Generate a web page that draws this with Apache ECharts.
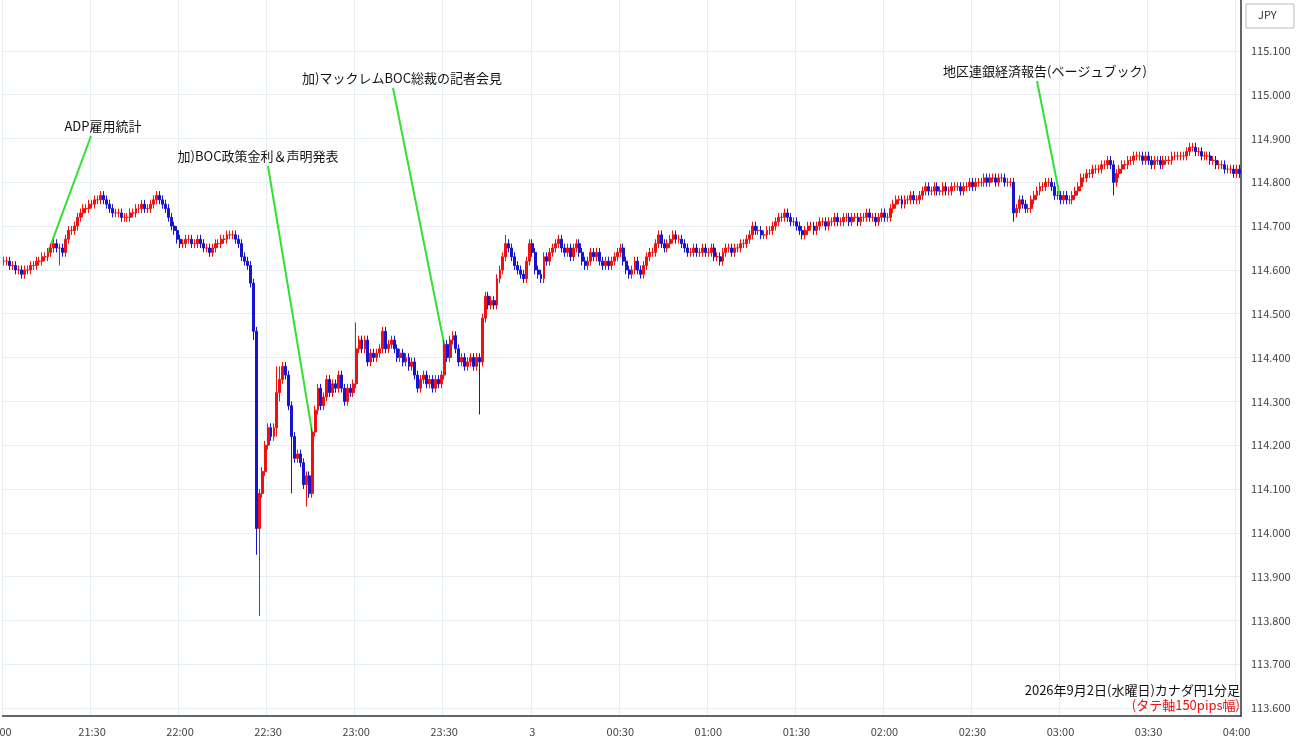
<!DOCTYPE html>
<html>
<head>
<meta charset="utf-8">
<script src="https://cdn.jsdelivr.net/npm/echarts@6/dist/echarts.min.js"></script>
<style>html,body{margin:0;padding:0;background:#fff}#chart{width:1300px;height:745px}</style>
</head>
<body>
<div id="chart"></div>
<script>
// closes in pips above 114.000, one per minute from 21:00
var closePips = [
 62,62,61,61,60,60,59,60,60,61,61,62,62,63,63,64,65,66,65,65,64,67,69,69,70,72,73,74,74,75,
 75,76,76,77,76,75,74,73,73,73,72,72,72,73,73,74,74,75,74,74,75,76,77,76,75,74,72,70,69,67,
 66,66,67,67,66,66,67,66,65,65,64,65,66,66,67,67,68,68,68,67,66,63,62,61,57,46,1,9,14,20,
 24,22,24,32,35,38,36,29,22,17,18,16,11,13,9,23,28,33,29,31,35,32,34,33,36,33,30,33,32,34,
 42,44,42,44,39,41,40,41,42,46,42,43,44,42,40,41,39,40,38,39,36,33,35,36,34,35,33,35,34,36,
 43,40,44,45,42,39,40,38,39,40,38,40,39,49,54,52,53,52,58,60,63,66,65,63,61,60,59,58,62,66,
 64,60,59,58,63,62,64,65,66,67,65,64,65,63,65,66,64,62,61,62,64,63,64,62,61,62,61,62,63,64,
 65,62,60,59,60,62,60,59,61,63,64,64,66,68,66,65,66,67,68,67,67,66,65,64,64,65,64,64,65,64,
 64,65,63,63,62,64,65,65,64,65,65,66,66,67,68,70,69,69,68,68,69,69,70,71,72,72,73,72,71,71,
 70,69,68,69,70,70,69,70,71,71,70,71,71,72,71,71,72,72,71,72,72,71,72,72,73,72,72,71,72,73,
 72,72,74,75,76,76,75,76,76,77,76,76,77,78,79,78,78,79,78,78,79,78,78,79,79,79,78,79,79,80,
 79,80,80,80,81,80,81,81,80,81,81,80,80,80,73,74,76,75,74,74,76,77,78,79,79,80,80,79,77,77,
 76,77,76,76,77,78,79,81,81,82,82,83,83,83,84,84,85,84,80,82,83,84,84,85,85,86,86,86,85,86,
 85,84,85,85,84,85,85,85,86,86,86,86,86,87,88,88,87,87,86,86,86,85,85,84,84,84,83,83,83,82,
 83,82
];
var firstOpenPips = 62;
// notable wicks: minute index -> [high, low] in pips
var wickPips = {
 19: [66, 61], 84: [62, 56], 85: [58, 44], 86: [47, -5], 87: [10, -19], 93: [38, 22], 94: [38, 30],
 98: [30, 9], 103: [14, 6], 105: [24, 8], 120: [48, 33], 129: [47, 41], 162: [41, 27],
 171: [68, 62], 344: [81, 71], 378: [85, 77], 404: [89, 86]
};
var tickLabels = ['21:00','21:30','22:00','22:30','23:00','23:30','3','00:30','01:00','01:30','02:00','02:30','03:00','03:30','04:00'];
var yTicks = [113.6,113.7,113.8,113.9,114.0,114.1,114.2,114.3,114.4,114.5,114.6,114.7,114.8,114.9,115.0,115.1];
var events = [
  {text: 'ADP雇用統計', minute: 15, x: 103, y: 120, lx: 91},
  {text: '加)BOC政策金利＆声明発表', minute: 105, x: 258, y: 150, lx: 268},
  {text: '加)マックレムBOC総裁の記者会見', minute: 150, x: 402, y: 72, lx: 393},
  {text: '地区連銀経済報告(ベージュブック)', minute: 360, x: 1045, y: 65, lx: 1037}
];

function p(v) { return +(114 + v / 100).toFixed(3); }

var cats = [], candles = [];
for (var i = 0; i < closePips.length; i++) {
  var m = 21 * 60 + i, hh = Math.floor(m / 60) % 24, mm = m % 60;
  var lab = (hh < 10 ? '0' : '') + hh + ':' + (mm < 10 ? '0' : '') + mm;
  if (lab === '00:00') lab = '3';
  cats.push(lab);
  var o = i === 0 ? firstOpenPips : closePips[i - 1], c = closePips[i];
  var hi = Math.max(o, c) + 1, lo = Math.min(o, c) - 1;
  if (wickPips[i]) { hi = wickPips[i][0]; lo = wickPips[i][1]; }
  candles.push([p(o), p(c), p(lo), p(hi)]);
}

var chart = echarts.init(document.getElementById('chart'));
var font = '"Noto Sans CJK JP", "Noto Sans", sans-serif';

chart.setOption({
  animation: false,
  textStyle: {fontFamily: font},
  grid: {left: 2.5, right: 59, top: 0, bottom: 29, containLabel: false, outerBoundsMode: 'none'},
  xAxis: {
    type: 'category', data: cats, boundaryGap: true,
    axisLine: {lineStyle: {color: '#333', width: 1.5}},
    axisTick: {show: false},
    axisLabel: {
      color: '#444', fontSize: 11, margin: 10, showMinLabel: true, hideOverlap: false,
      interval: function (idx, v) { return tickLabels.indexOf(v) >= 0; },
      formatter: function (v) { return v === '21:00' ? ':00' : v; }
    },
    splitLine: {show: true, interval: function (idx, v) { return tickLabels.indexOf(v) >= 0; },
      lineStyle: {color: '#e6edf3'}}
  },
  yAxis: {
    type: 'value', position: 'right', min: 113.582, max: 115.216, scale: true,
    axisLine: {show: true, lineStyle: {color: '#333', width: 1.5}},
    axisTick: {show: false, customValues: yTicks},
    axisLabel: {color: '#444', fontSize: 11, margin: 10, customValues: yTicks,
      formatter: function (v) { return v.toFixed(3); }},
    splitLine: {show: true, lineStyle: {color: '#e6edf3'}}
  },
  series: [{
    type: 'candlestick', data: candles, barWidth: 2.4,
    itemStyle: {color: '#f01010', color0: '#1414d2', borderColor: '#f01010', borderColor0: '#1414d2', borderWidth: 1}
  }]
});

var gfx = [
  {type: 'rect', shape: {x: 1246, y: 4, width: 48, height: 24}, style: {fill: '#fff', stroke: '#bbb', lineWidth: 1}},
  {type: 'text', x: 1258, y: 9, style: {text: 'JPY', fontSize: 11, fill: '#333', fontFamily: font}},
  {type: 'text', x: 1240, y: 684, style: {text: '2026年9月2日(水曜日)カナダ円1分足', fontSize: 13, fill: '#111', align: 'right', fontFamily: font}},
  {type: 'text', x: 1240, y: 699, style: {text: '(タテ軸150pips幅)', fontSize: 13, fill: '#f01010', align: 'right', fontFamily: font}}
];
events.forEach(function (e) {
  var pt = chart.convertToPixel({gridIndex: 0}, [e.minute, p(closePips[e.minute])]);
  gfx.push({type: 'line', shape: {x1: e.lx, y1: e.y + 16, x2: pt[0], y2: pt[1]},
    style: {stroke: '#33e033', lineWidth: 2}});
  gfx.push({type: 'text', x: e.x, y: e.y, style: {text: e.text, fontSize: 13, fill: '#111', align: 'center', fontFamily: font}});
});
chart.setOption({graphic: gfx});
</script>
</body>
</html>
